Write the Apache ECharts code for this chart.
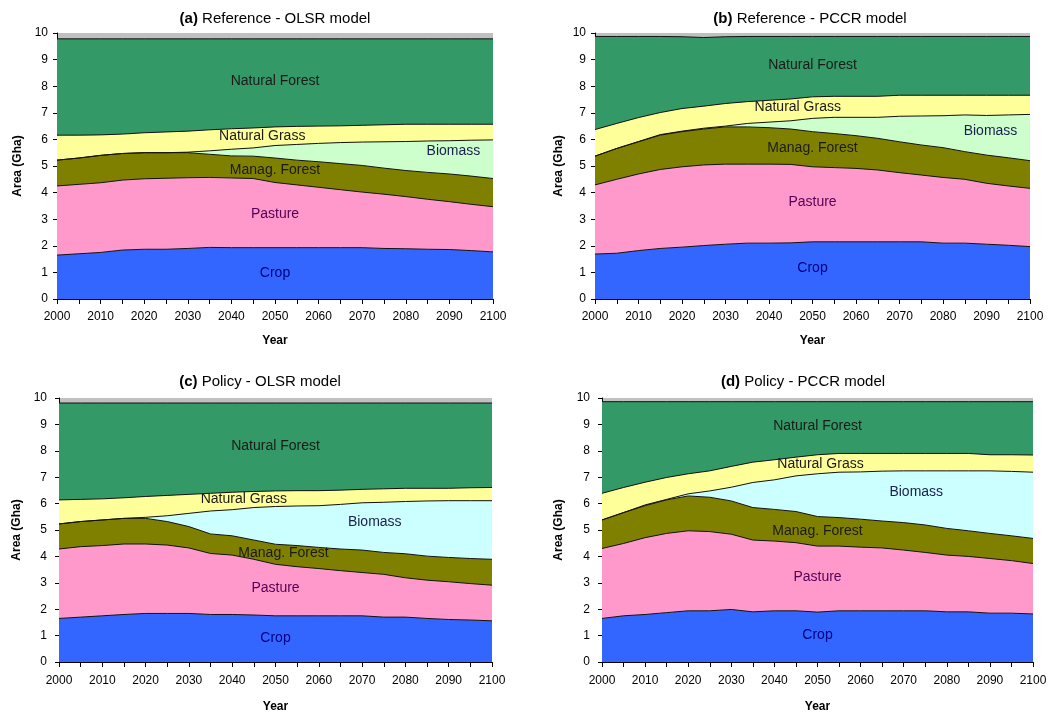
<!DOCTYPE html>
<html>
<head>
<meta charset="utf-8">
<script src="https://cdn.jsdelivr.net/npm/echarts@6/dist/echarts.min.js"></script>
<style>
  html, body { margin: 0; background: #fff; }
  #chart { width: 1057px; height: 715px; }
</style>
</head>
<body>
<div id="chart"></div>
<script>
const years = ['2000', '2005', '2010', '2015', '2020', '2025', '2030', '2035', '2040', '2045', '2050',
  '2055', '2060', '2065', '2070', '2075', '2080', '2085', '2090', '2095', '2100']
const layers = ['Crop', 'Pasture', 'Manag. Forest', 'Biomass', 'Natural Grass', 'Natural Forest']

// (a) Reference - OLSR model, area per land type (Gha)
const refOlsrCrop = [1.65, 1.70, 1.75, 1.84, 1.87, 1.87, 1.90, 1.94, 1.93, 1.93, 1.93, 1.93, 1.93, 1.93, 1.93, 1.90, 1.89, 1.87, 1.86, 1.82, 1.77]
const refOlsrPasture = [2.60, 2.61, 2.62, 2.63, 2.65, 2.67, 2.66, 2.63, 2.62, 2.60, 2.45, 2.36, 2.27, 2.18, 2.09, 2.04, 1.96, 1.88, 1.80, 1.74, 1.70]
const refOlsrManagForest = [0.97, 0.99, 1.03, 1.00, 0.98, 0.96, 0.94, 0.87, 0.83, 0.84, 0.92, 0.93, 0.96, 0.98, 1.00, 0.98, 0.98, 1.01, 1.04, 1.06, 1.06]
const refOlsrBiomass = [0, 0, 0, 0, 0, 0, 0.02, 0.13, 0.25, 0.31, 0.47, 0.59, 0.69, 0.79, 0.88, 0.99, 1.09, 1.18, 1.25, 1.35, 1.45]
const refOlsrGrass = [0.94, 0.86, 0.77, 0.73, 0.75, 0.78, 0.79, 0.79, 0.77, 0.75, 0.70, 0.68, 0.65, 0.63, 0.63, 0.64, 0.65, 0.63, 0.62, 0.60, 0.59]
const refOlsrForest = [3.62, 3.62, 3.61, 3.58, 3.53, 3.50, 3.47, 3.42, 3.38, 3.35, 3.31, 3.29, 3.28, 3.27, 3.25, 3.23, 3.21, 3.21, 3.21, 3.21, 3.21]

// (b) Reference - PCCR model
const refPccrCrop = [1.69, 1.72, 1.82, 1.90, 1.95, 2.01, 2.06, 2.10, 2.10, 2.11, 2.15, 2.15, 2.15, 2.15, 2.15, 2.15, 2.10, 2.10, 2.06, 2.02, 1.97]
const refPccrPasture = [2.60, 2.78, 2.88, 2.97, 3.02, 3.03, 3.01, 2.97, 2.97, 2.95, 2.82, 2.79, 2.76, 2.70, 2.60, 2.51, 2.47, 2.40, 2.29, 2.23, 2.19]
const refPccrManagForest = [1.08, 1.16, 1.21, 1.29, 1.32, 1.35, 1.40, 1.40, 1.37, 1.33, 1.32, 1.28, 1.23, 1.19, 1.16, 1.13, 1.12, 1.04, 1.06, 1.06, 1.04]
const refPccrBiomass = [0, 0, 0.01, 0.02, 0.02, 0.03, 0.03, 0.13, 0.21, 0.31, 0.50, 0.61, 0.69, 0.79, 0.96, 1.09, 1.20, 1.38, 1.49, 1.61, 1.74]
const refPccrGrass = [1.00, 0.94, 0.90, 0.83, 0.85, 0.83, 0.85, 0.82, 0.82, 0.82, 0.81, 0.79, 0.79, 0.79, 0.79, 0.78, 0.77, 0.74, 0.76, 0.74, 0.72]
const refPccrForest = [3.50, 3.27, 3.05, 2.86, 2.70, 2.58, 2.51, 2.45, 2.40, 2.35, 2.27, 2.25, 2.25, 2.25, 2.21, 2.21, 2.21, 2.21, 2.21, 2.21, 2.21]

// (c) Policy - OLSR model
const polOlsrCrop = [1.65, 1.70, 1.75, 1.80, 1.84, 1.84, 1.84, 1.80, 1.80, 1.78, 1.75, 1.75, 1.75, 1.75, 1.75, 1.70, 1.70, 1.65, 1.61, 1.59, 1.56]
const polOlsrPasture = [2.63, 2.67, 2.66, 2.67, 2.63, 2.59, 2.48, 2.31, 2.25, 2.11, 1.95, 1.86, 1.79, 1.71, 1.64, 1.62, 1.49, 1.45, 1.43, 1.38, 1.35]
const polOlsrManagForest = [0.95, 0.95, 0.97, 0.97, 0.97, 0.89, 0.81, 0.74, 0.73, 0.73, 0.76, 0.80, 0.80, 0.82, 0.85, 0.83, 0.91, 0.91, 0.92, 0.95, 0.98]
const polOlsrBiomass = [0, 0, 0, 0, 0.04, 0.22, 0.50, 0.87, 0.99, 1.23, 1.43, 1.50, 1.58, 1.69, 1.79, 1.90, 1.98, 2.09, 2.15, 2.19, 2.22]
const polOlsrGrass = [0.91, 0.84, 0.80, 0.78, 0.79, 0.77, 0.72, 0.67, 0.66, 0.61, 0.59, 0.58, 0.57, 0.54, 0.51, 0.51, 0.50, 0.48, 0.47, 0.49, 0.50]
const polOlsrForest = [3.67, 3.65, 3.63, 3.59, 3.54, 3.50, 3.46, 3.42, 3.38, 3.35, 3.33, 3.32, 3.32, 3.30, 3.27, 3.25, 3.23, 3.23, 3.23, 3.21, 3.20]

// (d) Policy - PCCR model
const polPccrCrop = [1.65, 1.75, 1.80, 1.87, 1.94, 1.94, 1.99, 1.90, 1.94, 1.94, 1.89, 1.94, 1.94, 1.94, 1.94, 1.94, 1.90, 1.90, 1.85, 1.85, 1.82]
const polPccrPasture = [2.65, 2.74, 2.91, 3.00, 3.03, 3.00, 2.85, 2.72, 2.64, 2.58, 2.50, 2.45, 2.41, 2.38, 2.30, 2.21, 2.15, 2.10, 2.07, 1.99, 1.91]
const polPccrManagForest = [1.08, 1.17, 1.21, 1.27, 1.32, 1.30, 1.26, 1.23, 1.20, 1.18, 1.12, 1.08, 1.06, 1.02, 1.04, 1.04, 1.01, 0.97, 0.95, 0.94, 0.95]
const polPccrBiomass = [0, 0, 0.03, 0.02, 0.08, 0.24, 0.52, 0.95, 1.12, 1.35, 1.62, 1.72, 1.79, 1.89, 1.96, 2.05, 2.18, 2.27, 2.37, 2.44, 2.51]
const polPccrGrass = [1.01, 0.95, 0.86, 0.83, 0.76, 0.76, 0.79, 0.77, 0.76, 0.71, 0.72, 0.71, 0.70, 0.67, 0.66, 0.66, 0.66, 0.66, 0.61, 0.63, 0.65]
const polPccrForest = [3.47, 3.25, 3.05, 2.87, 2.73, 2.62, 2.45, 2.29, 2.20, 2.10, 2.01, 1.96, 1.96, 1.96, 1.96, 1.96, 1.96, 1.96, 2.01, 2.01, 2.02]

const font = 'Liberation Sans, Arial, sans-serif'
const labelDark = '#1a1a1a'

// in-plot labels, listed in layer order: Crop, Pasture, Manag. Forest, Biomass, Natural Grass, Natural Forest
// each entry: [category, y, pixel nudge]
const panels = [
  {
    tag: '(a)', title: 'Reference - OLSR model', titleX: 270, titleY: 6,
    grid: { left: 57, top: 33, width: 436, height: 266 },
    yGap: 33, xGap: 36, yMargin: 9, xMargin: 12,
    data: [refOlsrCrop, refOlsrPasture, refOlsrManagForest, refOlsrBiomass, refOlsrGrass, refOlsrForest],
    biomassColor: '#ccffcc',
    labels: [['2050', 0.98, 0], ['2050', 3.2, 0], ['2050', 4.85, 0], ['2090', 5.54, 4], ['2045', 6.14, 9], ['2050', 8.19, 0]]
  },
  {
    tag: '(b)', title: 'Reference - PCCR model', titleX: 805, titleY: 6,
    grid: { left: 595, top: 33, width: 435, height: 266 },
    yGap: 30, xGap: 36, yMargin: 9, xMargin: 12,
    data: [refPccrCrop, refPccrPasture, refPccrManagForest, refPccrBiomass, refPccrGrass, refPccrForest],
    biomassColor: '#ccffcc',
    labels: [['2050', 1.16, 0], ['2050', 3.63, 0], ['2050', 5.66, 0], ['2090', 6.31, 4], ['2045', 7.2, 7], ['2050', 8.79, 0]]
  },
  {
    tag: '(c)', title: 'Policy - OLSR model', titleX: 255, titleY: 369,
    grid: { left: 59, top: 398, width: 433, height: 264 },
    yGap: 36, xGap: 39, yMargin: 12, xMargin: 13,
    data: [polOlsrCrop, polOlsrPasture, polOlsrManagForest, polOlsrBiomass, polOlsrGrass, polOlsrForest],
    biomassColor: '#ccffff',
    labels: [['2050', 0.91, 0], ['2050', 2.78, 0], ['2050', 4.14, 8], ['2075', 5.28, -9], ['2045', 6.18, -10], ['2050', 8.16, 0]]
  },
  {
    tag: '(d)', title: 'Policy - PCCR model', titleX: 798, titleY: 369,
    grid: { left: 602, top: 398, width: 431, height: 264 },
    yGap: 37, xGap: 39, yMargin: 12, xMargin: 13,
    data: [polPccrCrop, polPccrPasture, polPccrManagForest, polPccrBiomass, polPccrGrass, polPccrForest],
    biomassColor: '#ccffff',
    labels: [['2050', 1.01, 0], ['2050', 3.2, 0], ['2050', 4.96, 0], ['2075', 6.43, -9], ['2050', 7.51, 3], ['2050', 8.95, 0]]
  }
]

const labelColors = ['#000080', '#550055', labelDark, '#1a1f4d', labelDark, labelDark]

const chart = echarts.init(document.getElementById('chart'))

const option = {
  backgroundColor: '#fff',
  animation: false,
  title: [],
  grid: [],
  xAxis: [],
  yAxis: [],
  series: []
}

panels.forEach((p, gi) => {
  option.title.push({
    text: '{b|' + p.tag + '} ' + p.title,
    left: p.titleX,
    top: p.titleY,
    textAlign: 'center',
    textStyle: {
      fontFamily: font, fontSize: 15, fontWeight: 'normal', color: '#000',
      rich: { b: { fontFamily: font, fontSize: 15, fontWeight: 'bold', color: '#000' } }
    }
  })
  option.grid.push(Object.assign({ show: true, backgroundColor: '#c0c0c0', borderWidth: 0 }, p.grid))
  option.xAxis.push({
    type: 'category',
    gridIndex: gi,
    data: years,
    boundaryGap: false,
    name: 'Year',
    nameLocation: 'middle',
    nameGap: p.xGap,
    nameTextStyle: { fontFamily: font, fontSize: 12, fontWeight: 'bold', color: '#000' },
    axisLine: { lineStyle: { color: '#000', width: 1 } },
    axisTick: { interval: 0, length: 5, lineStyle: { color: '#000' } },
    axisLabel: { interval: 1, margin: p.xMargin, fontFamily: font, fontSize: 12, color: '#000' },
    splitLine: { show: false }
  })
  option.yAxis.push({
    type: 'value',
    gridIndex: gi,
    min: 0,
    max: 10,
    interval: 1,
    name: 'Area (Gha)',
    nameLocation: 'middle',
    nameGap: p.yGap,
    nameTextStyle: { fontFamily: font, fontSize: 12, fontWeight: 'bold', color: '#000' },
    axisLine: { show: true, lineStyle: { color: '#000', width: 1 } },
    axisTick: { show: true, length: 4, lineStyle: { color: '#000' } },
    axisLabel: { margin: p.yMargin, fontFamily: font, fontSize: 12, color: '#000' },
    splitLine: { show: false }
  })

  const colors = ['#3366ff', '#ff99cc', '#808000', p.biomassColor, '#ffff99', '#339966']
  layers.forEach((name, li) => {
    const s = {
      name: name,
      type: 'line',
      xAxisIndex: gi,
      yAxisIndex: gi,
      stack: 'land' + gi,
      symbol: 'none',
      data: p.data[li],
      lineStyle: { color: '#111', width: 1 },
      areaStyle: { color: colors[li], opacity: 1 },
      z: 2
    }
    if (li === layers.length - 1) {
      s.markPoint = {
        symbol: 'circle',
        symbolSize: 0,
        itemStyle: { color: 'transparent' },
        data: p.labels.map((l, k) => ({
          coord: [l[0], l[1]],
          label: {
            show: true,
            position: 'inside',
            offset: [l[2], 0],
            formatter: layers[k],
            fontFamily: font,
            fontSize: 14,
            color: labelColors[k]
          }
        }))
      }
    }
    option.series.push(s)
  })
})

chart.setOption(option)
</script>
</body>
</html>
